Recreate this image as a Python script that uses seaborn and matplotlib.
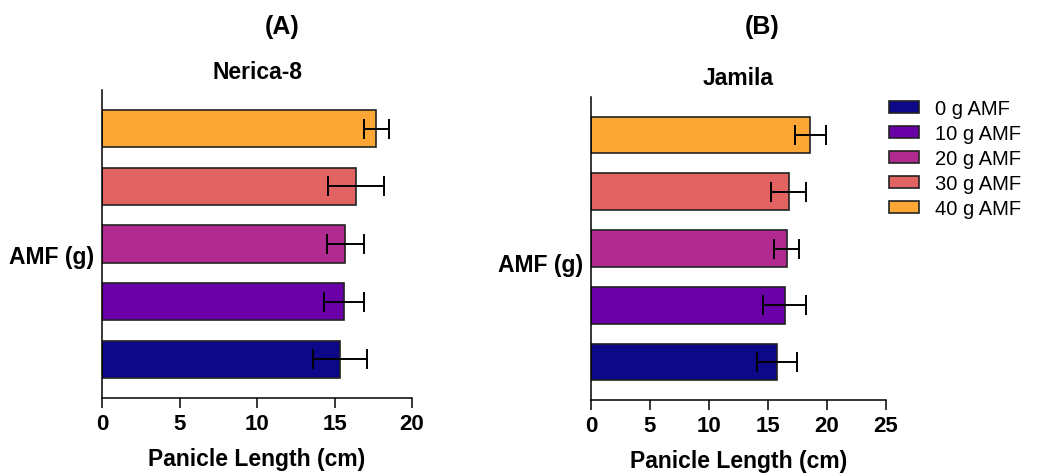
import numpy as np
import pandas as pd
import seaborn as sns
import matplotlib.pyplot as plt
from matplotlib.patches import Patch

# dose levels and palette
doses = ['0 g AMF', '10 g AMF', '20 g AMF', '30 g AMF', '40 g AMF']
colors = ['#0d0887', '#6a00a8', '#b12a90', '#e16462', '#fca636']

# panicle length (cm), mean and error
nerica_mean = [15.35, 15.6, 15.7, 16.4, 17.7]
nerica_err = [1.75, 1.3, 1.2, 1.8, 0.8]
jamila_mean = [15.75, 16.4, 16.6, 16.75, 18.6]
jamila_err = [1.7, 1.8, 1.05, 1.5, 1.35]

sns.set_style('ticks')
plt.rcParams['font.family'] = ['Liberation Sans', 'DejaVu Sans']
plt.rcParams['axes.linewidth'] = 1.1
for k in ['text.color', 'axes.labelcolor', 'xtick.color', 'ytick.color',
          'axes.edgecolor']:
    plt.rcParams[k] = 'black'

fig = plt.figure(figsize=(10.38, 4.77), dpi=100)
ax1 = fig.add_axes([102 / 1038, 1 - 399 / 477, 310 / 1038, 308 / 477])
ax2 = fig.add_axes([591 / 1038, 1 - 401 / 477, 295 / 1038, 303 / 477])

palette = dict(zip(doses, colors))
order = doses[::-1]  # 40 g on top


def panel(ax, means, errs, name, xmax, lab_y, title_y):
    df = pd.DataFrame({'dose': doses, 'length': means, 'err': errs})
    sns.barplot(data=df, x='length', y='dose', hue='dose', order=order,
                hue_order=doses, palette=palette, width=0.65,
                edgecolor='#222222', linewidth=1.2, errorbar=None,
                legend=False, ax=ax, saturation=1)
    d = df.set_index('dose').loc[order]
    ax.errorbar(d['length'], np.arange(len(order)), xerr=d['err'],
                fmt='none', ecolor='black', elinewidth=1.4,
                capsize=7, capthick=1.4)
    ax.set_xlim(0, xmax)
    ax.set_ylim(len(order) - 1 + 0.67, -0.67)
    ax.set_xticks(np.arange(0, xmax + 1, 5))
    ax.tick_params(axis='x', length=7, width=1.1, labelsize=16, pad=4)
    ax.tick_params(axis='y', left=False, labelleft=False)
    for t in ax.get_xticklabels():
        t.set_fontweight('bold')
    ax.set_xlabel('Panicle Length (cm)', fontsize=16.5, fontweight='bold',
                  labelpad=9)
    ax.set_ylabel('AMF (g)', fontsize=16.5, fontweight='bold', rotation=0,
                  ha='right', va='center')
    ax.yaxis.set_label_coords(-0.025, lab_y)
    ax.text(0.5, title_y, name, transform=ax.transAxes, ha='center',
            va='center', fontsize=16.5, fontweight='bold')
    sns.despine(ax=ax)


panel(ax1, nerica_mean, nerica_err, 'Nerica-8', 20, 0.458, 1.06)
panel(ax2, jamila_mean, jamila_err, 'Jamila', 25, 0.446, 1.063)

fig.text(282 / 1038, 1 - 27 / 477, '(A)', ha='center', va='center',
         fontsize=18, fontweight='bold')
fig.text(762 / 1038, 1 - 27 / 477, '(B)', ha='center', va='center',
         fontsize=18, fontweight='bold')

handles = [Patch(facecolor=c, edgecolor='#222222', linewidth=1.2)
           for c in colors]
fig.legend(handles, doses, loc='upper left',
           bbox_to_anchor=(889 / 1038, 1 - 100 / 477), frameon=False,
           fontsize=14.5, handlelength=1.5, handleheight=0.6,
           labelspacing=0.3, handletextpad=0.8, borderpad=0,
           borderaxespad=0)

fig.savefig('out.png', dpi=100)
